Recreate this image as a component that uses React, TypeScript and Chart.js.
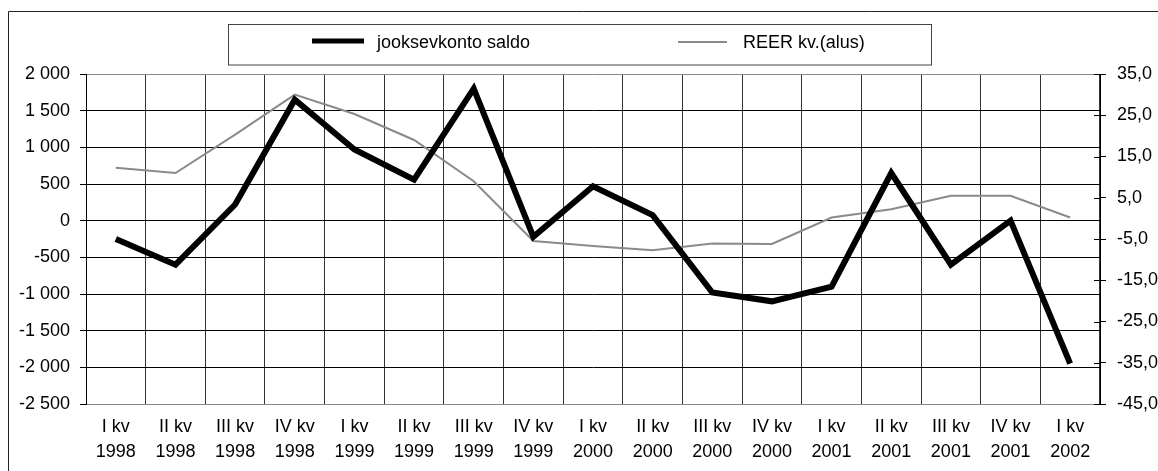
import React, { useEffect, useRef } from "react";
import { Chart, registerables } from "chart.js";
Chart.register(...registerables);

const quarters = ["I kv", "II kv", "III kv", "IV kv", "I kv", "II kv", "III kv", "IV kv", "I kv", "II kv", "III kv", "IV kv", "I kv", "II kv", "III kv", "IV kv", "I kv"];
const years = ["1998", "1998", "1998", "1998", "1999", "1999", "1999", "1999", "2000", "2000", "2000", "2000", "2001", "2001", "2001", "2001", "2002"];
const saldo = [-250, -600, 220, 1650, 970, 560, 1800, -220, 470, 75, -980, -1100, -900, 650, -600, 0, -1950];
const reer = [12.3, 11, 20.3, 30, 25.3, 19, 9, -5.5, -6.7, -7.7, -6.1, -6.2, 0.2, 2.2, 5.5, 5.5, 0.2];
const seriesNames = ["jooksevkonto saldo", "REER kv.(alus)"];

const FONT = "'Liberation Sans', Arial, sans-serif";

const fmtLeft = (v: number) => {
  const s = Math.abs(v).toString().replace(/\B(?=(\d{3})+(?!\d))/g, " ");
  return (v < 0 ? "-" : "") + s;
};
const fmtRight = (v: number) => v.toFixed(1).replace(".", ",");

const decorPlugin = {
  id: "decor",
  afterDraw(chart: any) {
    const ctx = chart.ctx;
    ctx.save();
    // outer frame (left and top visible)
    ctx.strokeStyle = "#222";
    ctx.lineWidth = 1;
    ctx.beginPath();
    ctx.moveTo(8.5, 471);
    ctx.lineTo(8.5, 11.5);
    ctx.lineTo(1158, 11.5);
    ctx.stroke();

    // right axis inner tick marks
    const y2 = chart.scales.y2;
    ctx.strokeStyle = "#000";
    ctx.beginPath();
    y2.ticks.forEach((t: any) => {
      const py = Math.round(y2.getPixelForValue(t.value)) + 0.5;
      ctx.moveTo(y2.left - 6, py);
      ctx.lineTo(y2.left, py);
    });
    ctx.stroke();

    // legend box
    ctx.strokeStyle = "#444";
    ctx.strokeRect(228.5, 24.5, 703, 40.5);
    ctx.lineWidth = 5;
    ctx.strokeStyle = "#000";
    ctx.beginPath();
    ctx.moveTo(312, 41);
    ctx.lineTo(364, 41);
    ctx.stroke();
    ctx.lineWidth = 2;
    ctx.strokeStyle = "#8a8a8a";
    ctx.beginPath();
    ctx.moveTo(678, 42);
    ctx.lineTo(727, 42);
    ctx.stroke();
    ctx.fillStyle = "#000";
    ctx.font = `18px ${FONT}`;
    ctx.textBaseline = "alphabetic";
    ctx.textAlign = "left";
    ctx.fillText(seriesNames[0], 377, 48);
    ctx.fillText(seriesNames[1], 743, 48);
    ctx.restore();
  },
};

export default function App() {
  const ref = useRef<HTMLCanvasElement | null>(null);
  useEffect(() => {
    if (!ref.current) return;
    const labels = quarters.map((q, i) => [q, years[i]]);
    const chart = new Chart(ref.current, {
      type: "line",
      data: {
        labels,
        datasets: [
          {
            label: seriesNames[0],
            data: saldo,
            borderColor: "#000",
            borderWidth: 6,
            borderJoinStyle: "miter",
            pointRadius: 0,
            tension: 0,
            yAxisID: "y",
          },
          {
            label: seriesNames[1],
            data: reer,
            borderColor: "#8a8a8a",
            borderWidth: 2,
            pointRadius: 0,
            tension: 0,
            yAxisID: "y2",
          },
        ],
      },
      options: {
        animation: false,
        responsive: false,
        layout: { padding: { left: 0, right: 0, top: 74, bottom: 0 } },
        plugins: { legend: { display: false }, tooltip: { enabled: false } },
        scales: {
          x: {
            offset: true,
            grid: { offset: true, color: "#333", drawTicks: false, lineWidth: 1 },
            border: { color: "#888", width: 1 },
            ticks: { color: "#000", font: { family: FONT, size: 18, lineHeight: 1.36 }, padding: 11, maxRotation: 0, autoSkip: false },
            afterFit: (s: any) => { s.height = 67; },
          },
          y: {
            position: "left",
            min: -2500,
            max: 2000,
            grid: { color: (c: any) => (c.tick && (c.tick.value === 2000) ? "#888" : "#000"), tickLength: 6, tickColor: "#000" },
            border: { color: "#000", width: 1 },
            ticks: { stepSize: 500, color: "#000", font: { family: FONT, size: 18 }, padding: 10, callback: (v: any) => fmtLeft(Number(v)) },
            afterFit: (s: any) => { s.width = 86; },
          },
          y2: {
            position: "right",
            min: -45,
            max: 35,
            grid: { drawOnChartArea: false, tickLength: 6, color: "#000" },
            border: { color: "#000", width: 1 },
            ticks: { stepSize: 10, color: "#000", font: { family: FONT, size: 18 }, padding: 11, callback: (v: any) => fmtRight(Number(v)) },
            afterFit: (s: any) => { s.width = 58; },
          },
        },
      },
      plugins: [decorPlugin],
    } as any);
    return () => chart.destroy();
  }, []);
  return (
    <div style={{ position: "absolute", left: 0, top: 0, width: 1158, height: 471, background: "#fff" }}>
      <canvas ref={ref} width={1158} height={471} style={{ display: "block" }} />
    </div>
  );
}
